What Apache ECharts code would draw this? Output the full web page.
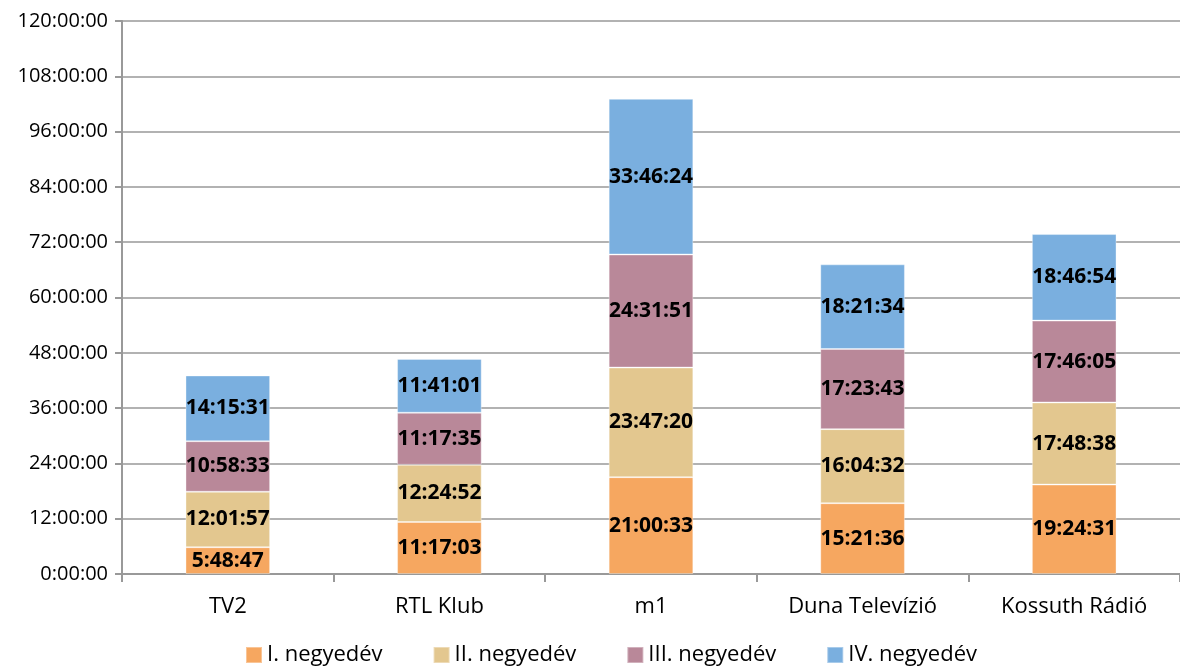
<!DOCTYPE html>
<html lang="hu">
<head>
<meta charset="UTF-8">
<title>Negyedéves műsoridő</title>
<script src="https://cdn.jsdelivr.net/npm/echarts@6/dist/echarts.min.js"></script>
<style>
  * { margin: 0; padding: 0 }
  html, body { width: 100%; height: 100%; background: #fff; }
  #main { width: 1180px; height: 671px; }
</style>
</head>
<body>
<div id="main"></div>
<script>
var channels = ['TV2', 'RTL Klub', 'm1', 'Duna Televízió', 'Kossuth Rádió'];
var quarterNames = ['I. negyedév', 'II. negyedév', 'III. negyedév', 'IV. negyedév'];
var q1 = ['5:48:47', '11:17:03', '21:00:33', '15:21:36', '19:24:31'];
var q2 = ['12:01:57', '12:24:52', '23:47:20', '16:04:32', '17:48:38'];
var q3 = ['10:58:33', '11:17:35', '24:31:51', '17:23:43', '17:46:05'];
var q4 = ['14:15:31', '11:41:01', '33:46:24', '18:21:34', '18:46:54'];
var colors = ['#f6a760', '#e3c78f', '#b98899', '#7aafdf'];

// "h:mm:ss" -> hours
function toHours(s) {
    var p = s.split(':');
    return +p[0] + p[1] / 60 + p[2] / 3600;
}

var myChart = echarts.init(document.getElementById('main'));
var font = '"Open Sans", "DejaVu Sans", sans-serif';

var series = [q1, q2, q3, q4].map(function (arr, i) {
    return {
        name: quarterNames[i],
        type: 'bar',
        stack: 'total',
        barWidth: '40%',
        itemStyle: { color: colors[i], borderColor: 'rgba(255,255,255,0.35)', borderWidth: 1 },
        label: {
            show: true,
            position: 'inside',
            color: '#000',
            fontWeight: 'bold',
            fontSize: 21,
            fontFamily: font,
            formatter: function (p) { return arr[p.dataIndex]; }
        },
        data: arr.map(toHours)
    };
});

var option = {
    animation: false,
    grid: { left: 122, right: 0, top: 21, bottom: 97 },
    legend: {
        bottom: 0,
        left: 240,
        itemWidth: 16,
        itemHeight: 16,
        itemGap: 50,
        icon: 'rect',
        textStyle: { fontSize: 22, fontFamily: font, color: '#000' },
        data: quarterNames
    },
    xAxis: {
        type: 'category',
        data: channels,
        axisLine: { lineStyle: { color: '#999', width: 2 } },
        axisTick: { show: true, length: 8, lineStyle: { color: '#999', width: 2 } },
        axisLabel: { fontSize: 22, fontFamily: font, color: '#000', margin: 22 }
    },
    yAxis: {
        type: 'value',
        min: 0,
        max: 120,
        interval: 12,
        axisLine: { show: true, lineStyle: { color: '#999', width: 2 } },
        axisTick: { show: true, length: 7, lineStyle: { color: '#999', width: 2 } },
        splitLine: { lineStyle: { color: '#999', width: 1.5 } },
        axisLabel: {
            fontSize: 20, fontFamily: font, color: '#000', margin: 14,
            formatter: function (v) { return v + ':00:00'; }
        }
    },
    series: series
};

myChart.setOption(option);
</script>
</body>
</html>
